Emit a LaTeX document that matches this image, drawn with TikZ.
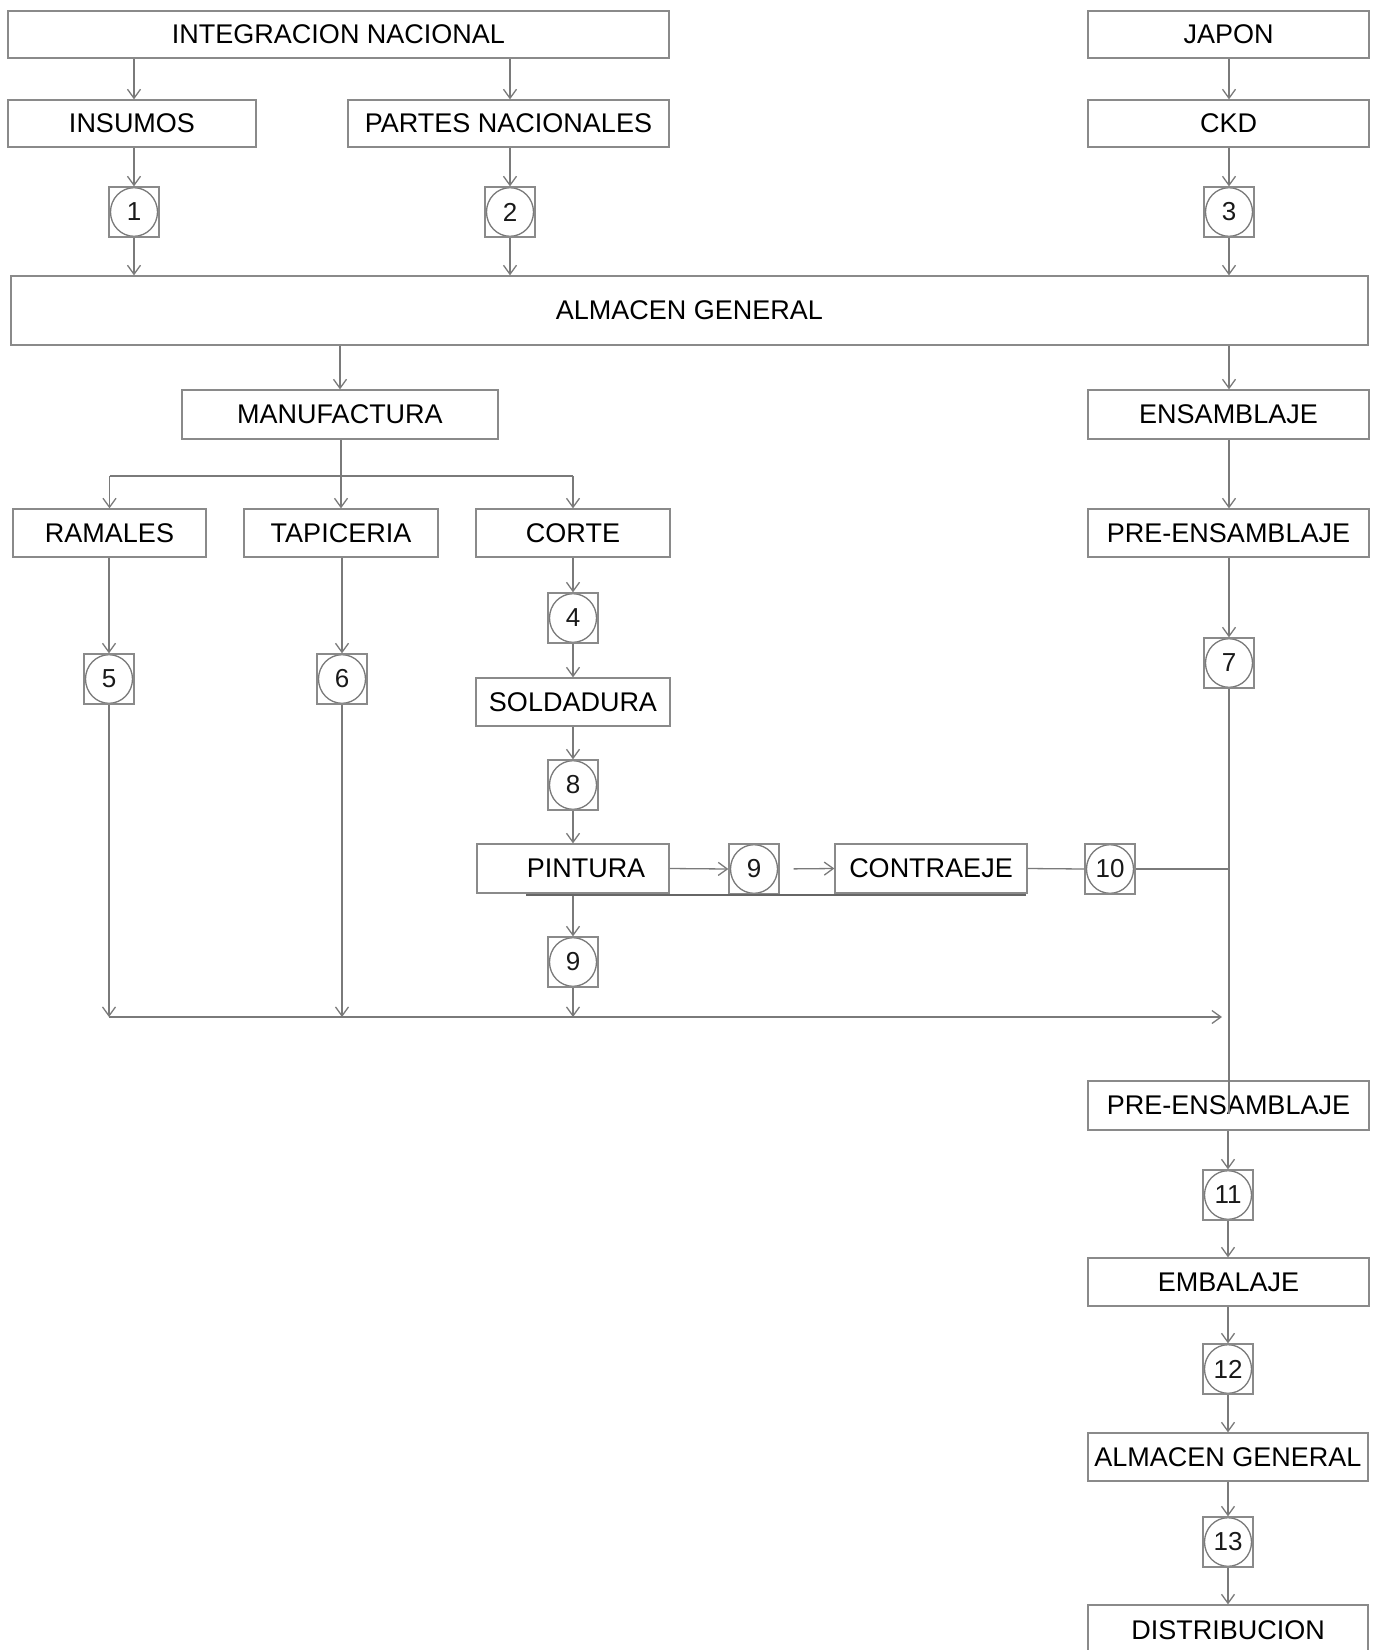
\documentclass[tikz,border=0pt]{standalone}
\usepackage{fontspec}
\setmainfont{Liberation Sans}
\usetikzlibrary{arrows.meta,calc}
\definecolor{ln}{HTML}{7A7A7A}
\definecolor{bx}{HTML}{8A8A8A}
\begin{document}
\begin{tikzpicture}[x=1pt,y=-1pt,
  box/.style={draw=bx, line width=1.3pt, inner sep=0pt, font=\fontsize{27}{30}\selectfont, text=black, minimum height=48pt},
  num/.style={draw=bx, line width=1.3pt, minimum width=50pt, minimum height=50pt, inner sep=0pt, text=black!90, font=\fontsize{26}{28}\selectfont,
    path picture={\draw[ln, line width=1.3pt] (path picture bounding box.center) ellipse [x radius=23.5pt, y radius=24.3pt];}},
  arr/.style={draw=ln, line width=1.3pt, -{Straight Barb[length=9pt,width=13pt]}},
  con/.style={draw=ln, line width=1.3pt}
]
\useasboundingbox (0,0) rectangle (1375,1650);
% top row
\node[box, minimum width=661pt, minimum height=47pt] (int) at (338.5,34.5) {INTEGRACION NACIONAL};
\node[box, minimum width=281pt, minimum height=47pt] (japon) at (1228.5,34.5) {JAPON};
\node[box, minimum width=248pt, minimum height=47pt] (insumos) at (132,123.5) {INSUMOS};
\node[box, minimum width=321pt, minimum height=47pt] (partes) at (508.5,123.5) {PARTES NACIONALES};
\node[box, minimum width=281pt, minimum height=47pt] (ckd) at (1228.5,123.5) {CKD};
\node[num] (c1) at (134,212) {1};
\node[num] (c2) at (510,212) {2};
\node[num] (c3) at (1229,212) {3};
\node[box, minimum width=1357pt, minimum height=69pt] (alm) at (689.5,310.5) {ALMACEN GENERAL};
% second level
\node[box, minimum width=316pt, minimum height=49pt] (manuf) at (340,414.5) {MANUFACTURA};
\node[box, minimum width=281pt, minimum height=49pt] (ens) at (1228.5,414.5) {ENSAMBLAJE};
\node[box, minimum width=193pt] (ramales) at (109.5,533) {RAMALES};
\node[box, minimum width=194pt] (tapiceria) at (341,533) {TAPICERIA};
\node[box, minimum width=194pt] (corte) at (573,533) {CORTE};
\node[box, minimum width=281pt] (pre1) at (1228.5,533) {PRE-ENSAMBLAJE};
\node[num] (c4) at (573,618) {4};
\node[num] (c5) at (109,679) {5};
\node[num] (c6) at (342,679) {6};
\node[num] (c7) at (1229,663) {7};
\node[box, minimum width=194pt] (sold) at (573,702) {SOLDADURA};
\node[num] (c8) at (573,785) {8};
\node[box, minimum width=192pt, minimum height=49pt] (pint) at (573,868.5) {\hspace*{26pt}PINTURA};
\node[num] (c9h) at (754,869) {9};
\node[box, minimum width=192pt, minimum height=49pt] (contra) at (931,868.5) {CONTRAEJE};
\node[num] (c10) at (1110,869) {10};
\node[num] (c9v) at (573,962) {9};
\coordinate (hl) at (0,1017);
% right column bottom
\node[box, minimum width=281pt, minimum height=49pt] (pre2) at (1228.5,1105.5) {PRE-ENSAMBLAJE};
\node[num] (c11) at (1228,1195) {11};
\node[box, minimum width=281pt] (emb) at (1228.5,1282) {EMBALAJE};
\node[num] (c12) at (1228,1369) {12};
\node[box, minimum width=280pt] (alm2) at (1228,1457) {ALMACEN GENERAL};
\node[num] (c13) at (1228,1542) {13};
\node[box, minimum width=280pt, minimum height=50pt] (dist) at (1228,1630) {DISTRIBUCION};
% connectors top
\draw[arr] (int.south -| c1) -- (insumos.north -| c1);
\draw[arr] (int.south -| c2) -- (partes.north -| c2);
\draw[arr] (japon.south -| c3) -- (ckd.north -| c3);
\draw[arr] (insumos.south -| c1) -- (c1.north);
\draw[arr] (partes.south -| c2) -- (c2.north);
\draw[arr] (ckd.south -| c3) -- (c3.north);
\draw[arr] (c1.south) -- (alm.north -| c1);
\draw[arr] (c2.south) -- (alm.north -| c2);
\draw[arr] (c3.south) -- (alm.north -| c3);
\draw[arr] (alm.south -| manuf.north) -- (manuf.north);
\draw[arr] (alm.south -| c7) -- (ens.north -| c7);
% branch
\coordinate (br) at (341,476);
\draw[con] (manuf.south -| br) -- (br);
\draw[con] (br -| ramales) -- (br -| corte);
\draw[arr] (br -| ramales) -- (ramales.north);
\draw[arr] (br -| tapiceria) -- (tapiceria.north);
\draw[arr] (br -| corte) -- (corte.north);
\draw[arr] (ramales.south -| c5) -- (c5.north);
\draw[arr] (tapiceria.south -| c6) -- (c6.north);
\draw[arr] (corte.south) -- (c4.north);
\draw[arr] (c4.south) -- (sold.north);
\draw[arr] (sold.south) -- (c8.north);
\draw[arr] (c8.south) -- (pint.north);
\draw[arr] (pint.south) -- (c9v.north);
\draw[arr] (c5.south) -- (c5 |- hl);
\draw[arr] (c6.south) -- (c6 |- hl);
\draw[arr] (c9v.south) -- (c9v |- hl);
\draw[arr] (c5 |- hl) -- ($(c7 |- hl)+(-7,0)$);
% pintura branch
\draw[arr] (pint.east) -- (c9h.west);
\draw[arr, shorten <=14pt] (c9h.east) -- (contra.west);
\draw[con] (contra.east) -- (c10.west);
\draw[con] (c10.east) -- (c10 -| c7);
\draw[draw=black!60, line width=2pt] ($(pint.south west)+(50,1)$) -- ($(contra.south east)+(-2,1)$);
% right column
\draw[arr] (ens.south -| c7) -- (pre1.north -| c7);
\draw[arr] (pre1.south -| c7) -- (c7.north);
\draw[con] (c7.south) -- ($(pre2.center -| c7)+(0,8)$);
\draw[arr] (pre2.south -| c11) -- (c11.north);
\draw[arr] (c11.south) -- (emb.north -| c11);
\draw[arr] (emb.south -| c12) -- (c12.north);
\draw[arr] (c12.south) -- (alm2.north -| c12);
\draw[arr] (alm2.south -| c13) -- (c13.north);
\draw[arr] (c13.south) -- (dist.north -| c13);
\end{tikzpicture}
\end{document}
